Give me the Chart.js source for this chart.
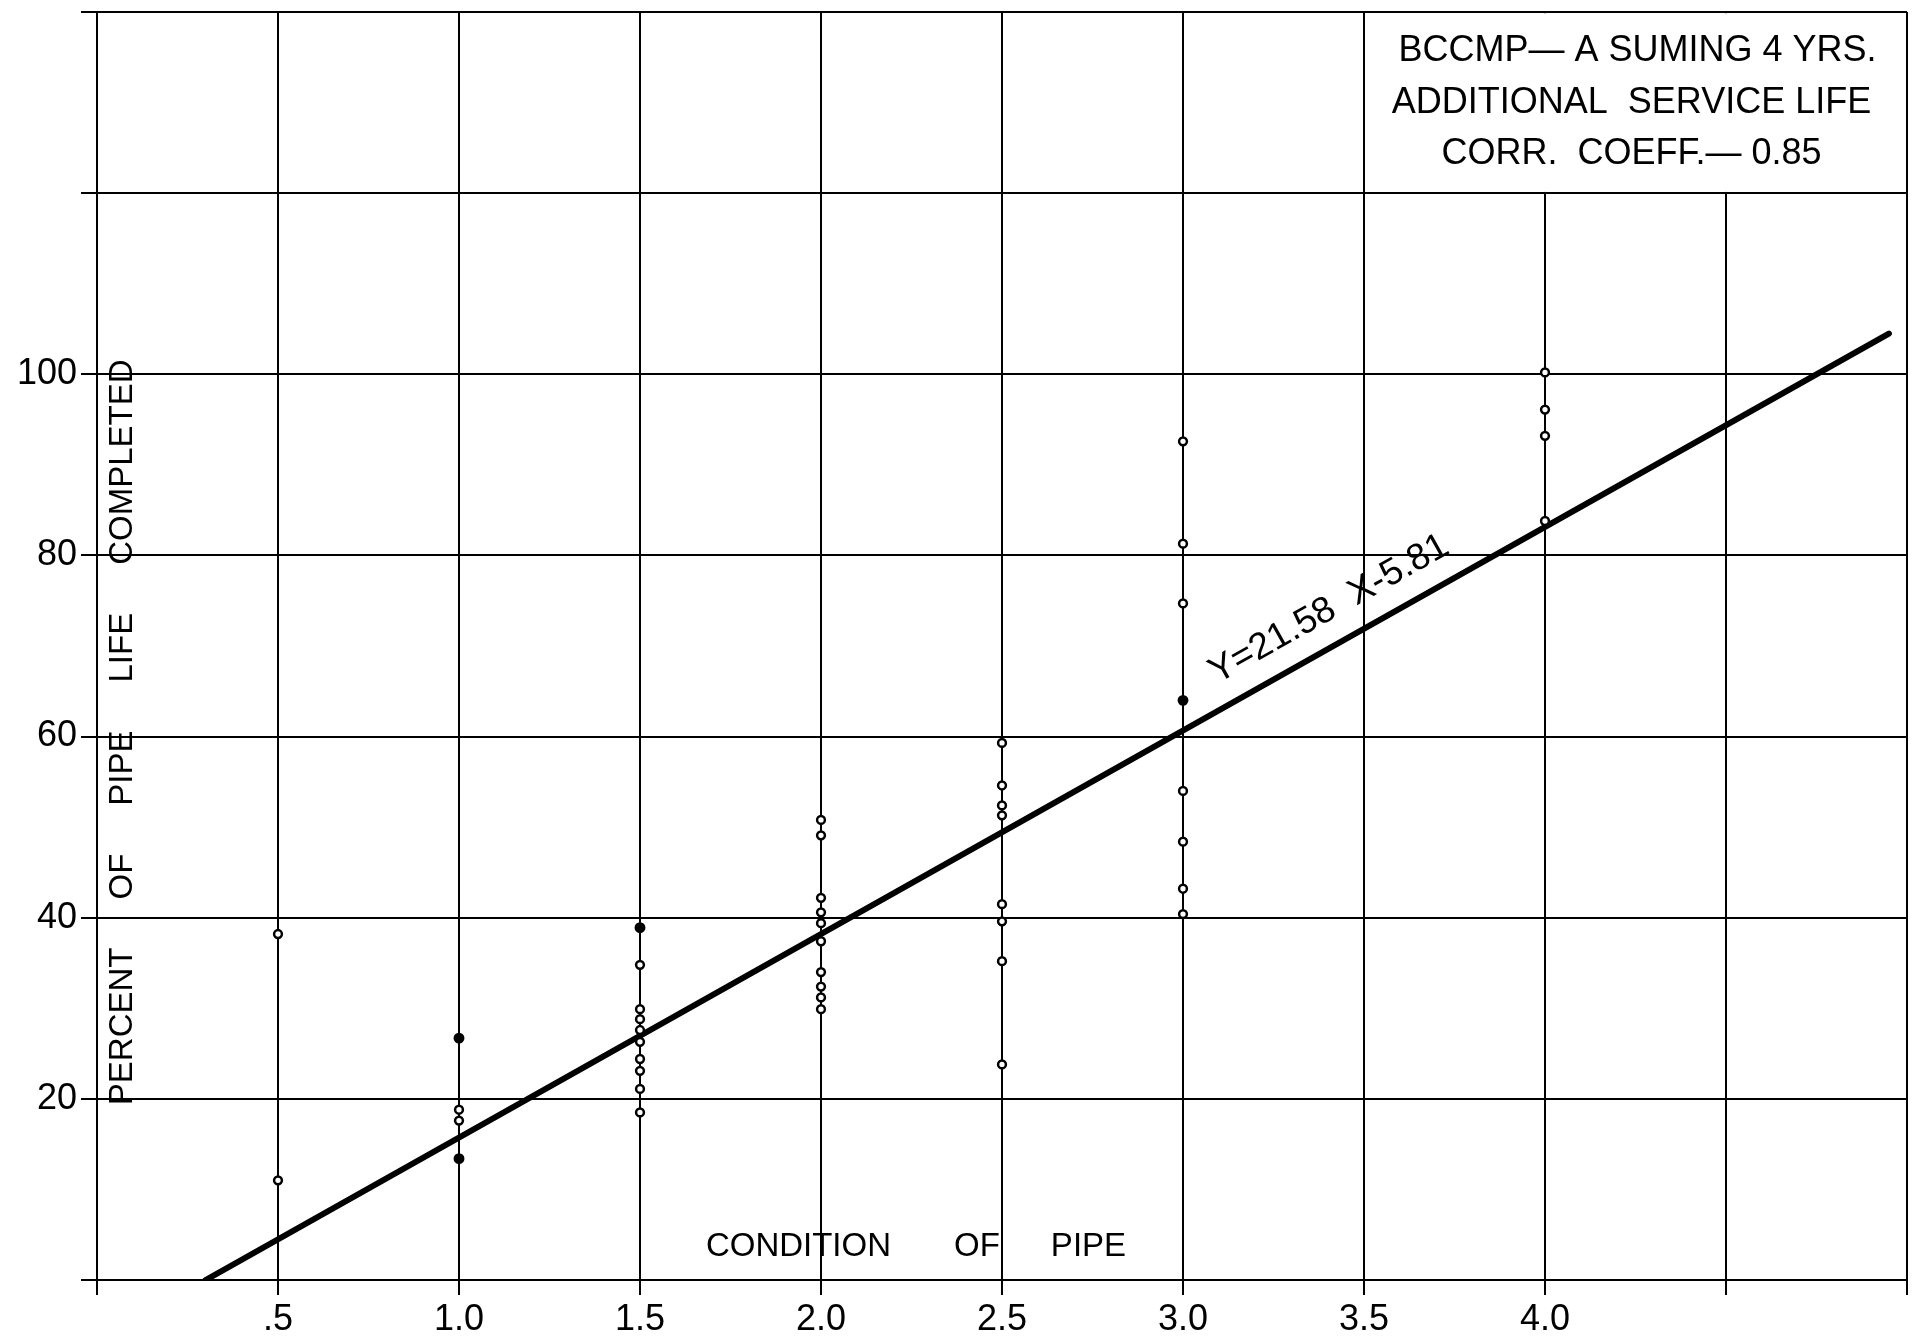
<!DOCTYPE html>
<html>
<head>
<meta charset="utf-8">
<script src="https://cdn.jsdelivr.net/npm/chart.js@4/dist/chart.umd.min.js"></script>
<style>
  html, body { margin: 0; padding: 0; background: #fff; }
  #wrap { width: 1915px; height: 1336px; position: relative; }
</style>
</head>
<body>
<div id="wrap"><canvas id="c"></canvas></div>
<script>
// ---- data ----
const condOpen = [0.5, 0.5,
  1.0, 1.0,
  1.5, 1.5, 1.5, 1.5, 1.5, 1.5, 1.5, 1.5, 1.5,
  2.0, 2.0, 2.0, 2.0, 2.0, 2.0, 2.0, 2.0, 2.0, 2.0,
  2.5, 2.5, 2.5, 2.5, 2.5, 2.5, 2.5, 2.5,
  3.0, 3.0, 3.0, 3.0, 3.0, 3.0, 3.0,
  4.0, 4.0, 4.0, 4.0];
const lifeOpen = [38.2, 11.0,
  18.8, 17.6,
  34.8, 29.9, 28.8, 27.6, 26.3, 24.4, 23.1, 21.1, 18.5,
  50.8, 49.1, 42.2, 40.6, 39.4, 37.4, 34.0, 32.4, 31.2, 29.9,
  59.3, 54.6, 52.4, 51.3, 41.5, 39.6, 35.2, 23.8,
  92.6, 81.3, 74.7, 54.0, 48.4, 43.2, 40.4,
  100.2, 96.1, 93.2, 83.8];
const condFilled = [1.0, 1.0, 1.5, 3.0];
const lifeFilled = [26.7, 13.4, 38.9, 64.0];
const fitCond = [0.3, 4.95];
const fitLife = [0, 104.5];
const xTickLabels = ['', '.5', '1.0', '1.5', '2.0', '2.5', '3.0', '3.5', '4.0', '', ''];
const yTickLabels = ['', '20', '40', '60', '80', '100', '', ''];
const noteLines = ['BCCMP\u2014 A SUMING 4 YRS.', 'ADDITIONAL  SERVICE LIFE', 'CORR.  COEFF.\u2014 0.85'];
const xTitleWords = ['CONDITION', 'OF', 'PIPE'];
const yTitleWords = ['PERCENT', 'OF', 'PIPE', 'LIFE', 'COMPLETED'];
const fitLabel = 'Y=21.58  X-5.81';

const toPts = (xs, ys) => xs.map((v, i) => ({ x: v, y: ys[i] }));
const FONT = '"Liberation Sans", Arial, sans-serif';

const annotate = {
  id: 'annotate',
  beforeDatasetsDraw(chart) {
    const { ctx, scales: { x, y } } = chart;
    ctx.save();
    // note box (x 3.5..5, y 120..140): interior grid lines are absent
    const l = x.getPixelForValue(3.5), r = x.getPixelForValue(5);
    const t = y.getPixelForValue(140), b = y.getPixelForValue(120);
    ctx.fillStyle = '#fff';
    ctx.fillRect(l + 1.2, t + 1.2, r - l - 2.4, b - t - 2.4);
    ctx.fillStyle = '#000';
    ctx.font = '36px ' + FONT;
    ctx.textAlign = 'center';
    ctx.textBaseline = 'middle';
    const cx = x.getPixelForValue(4.25) - 4;
    const rows = [135.7, 129.9, 124.3];
    noteLines.forEach((s, i) => ctx.fillText(s, cx + (i === 0 ? 6 : 0), y.getPixelForValue(rows[i])));

    // x axis title inside plot
    ctx.font = '33px ' + FONT;
    ctx.textAlign = 'left';
    let px = x.getPixelForValue(1.682);
    const py = y.getPixelForValue(3.7);
    const xGaps = [63, 51];
    xTitleWords.forEach((w, i) => {
      ctx.fillText(w, px, py);
      px += ctx.measureText(w).width + (xGaps[i] || 0);
    });

    // y axis title, rotated
    ctx.save();
    ctx.translate(x.getPixelForValue(0) + 26, y.getPixelForValue(19.3));
    ctx.rotate(-Math.PI / 2);
    let qx = 0;
    yTitleWords.forEach((w) => {
      ctx.fillText(w, qx, 0);
      qx += ctx.measureText(w).width + 48;
    });
    ctx.restore();
    ctx.restore();
  },
  afterDatasetsDraw(chart) {
    const { ctx, scales: { x, y } } = chart;
    const x1 = x.getPixelForValue(fitCond[0]), y1 = y.getPixelForValue(fitLife[0]);
    const x2 = x.getPixelForValue(fitCond[1]), y2 = y.getPixelForValue(fitLife[1]);
    const ang = Math.atan2(y2 - y1, x2 - x1);
    const f = (3.45 - fitCond[0]) / (fitCond[1] - fitCond[0]);
    ctx.save();
    ctx.translate(x1 + (x2 - x1) * f, y1 + (y2 - y1) * f);
    ctx.rotate(ang);
    ctx.fillStyle = '#000';
    ctx.font = '37px ' + FONT;
    ctx.textAlign = 'center';
    ctx.textBaseline = 'middle';
    ctx.fillText(fitLabel, 0, -34);
    ctx.restore();
  }
};

new Chart(document.getElementById('c'), {
  type: 'scatter',
  data: {
    datasets: [
      {
        data: toPts(condFilled, lifeFilled),
        pointRadius: 4.2, pointBorderWidth: 2.5,
        pointBackgroundColor: '#000', pointBorderColor: '#000'
      },
      {
        data: toPts(condOpen, lifeOpen),
        pointRadius: 3.9, pointBorderWidth: 2.5,
        pointBackgroundColor: '#fff', pointBorderColor: '#000'
      },
      {
        type: 'line',
        data: toPts(fitCond, fitLife),
        showLine: true, pointRadius: 0,
        borderColor: '#000', borderWidth: 6, borderCapStyle: 'round',
        fill: false
      }
    ]
  },
  options: {
    responsive: true,
    maintainAspectRatio: false,
    animation: false,
    layout: { padding: { left: 0, right: 8, top: 12, bottom: 0 } },
    plugins: { legend: { display: false }, tooltip: { enabled: false } },
    scales: {
      x: {
        type: 'linear', min: 0, max: 5,
        grid: { color: '#000', lineWidth: 2, tickLength: 15, drawTicks: true },
        border: { color: '#000', width: 2 },
        ticks: {
          stepSize: 0.5, autoSkip: false, maxRotation: 0, padding: 3,
          color: '#000', font: { family: FONT, size: 36 },
          callback: (v, i) => xTickLabels[i] ?? ''
        },
        afterFit: (s) => { s.height = 56; s.paddingLeft = 0; s.paddingRight = 0; }
      },
      y: {
        type: 'linear', min: 0, max: 140,
        grid: { color: '#000', lineWidth: 2, tickLength: 16, drawTicks: true },
        border: { color: '#000', width: 2 },
        ticks: {
          stepSize: 20, padding: 4,
          color: '#000', font: { family: FONT, size: 36 },
          callback: (v, i) => yTickLabels[i] ?? ''
        },
        afterFit: (s) => { s.width = 97; s.paddingTop = 0; s.paddingBottom = 0; }
      }
    }
  },
  plugins: [annotate]
});
</script>
</body>
</html>
